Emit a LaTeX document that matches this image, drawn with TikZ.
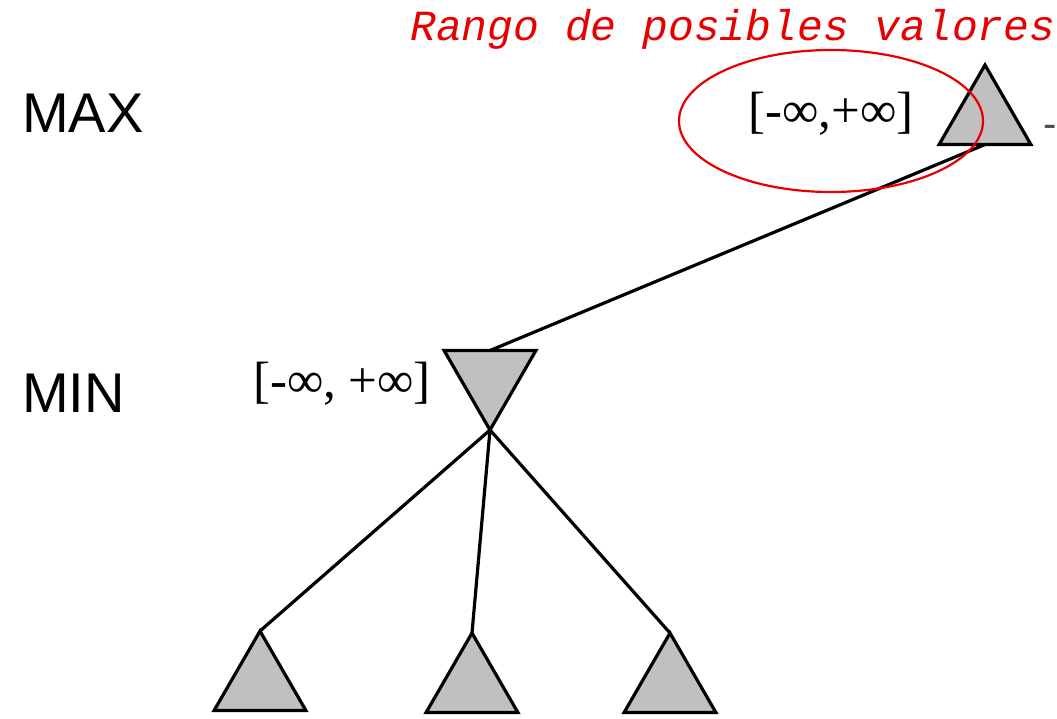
\documentclass[tikz,border=0pt]{standalone}
\usepackage{fontspec}
\setmainfont{Liberation Serif}
\newfontfamily\helvfont{Liberation Sans}
\newfontfamily\courfont{Liberation Mono}
\usepackage{tikz}
\usetikzlibrary{shapes.geometric}
\definecolor{ink}{HTML}{000000}
\definecolor{nodegray}{HTML}{C0C0C0}
\definecolor{rangered}{HTML}{E80000}

\begin{document}
\begin{tikzpicture}[x=1pt,y=-1pt]
    \tikzset{
      maxnode/.style={regular polygon,regular polygon sides=3,minimum size=106pt,inner sep=0pt,outer sep=0pt,draw=ink,fill=nodegray,line width=3.2pt},
      minnode/.style={maxnode,shape border rotate=180},
      levellabel/.style={font=\helvfont\fontsize{56}{60}\selectfont,anchor=base west,inner sep=0pt},
      rangelabel/.style={font=\fontsize{51}{54}\selectfont,anchor=base,inner sep=0pt},
      link/.style={draw=ink,line width=3.2pt}
    }
    \useasboundingbox (0,0) rectangle (1057,718);
    % levels
    \node[levellabel] (lmax) at (22,132) {MAX};
    \node[levellabel] (lmin) at (22,412) {MIN};
    % tree
    \node[maxnode] (root) at (985,118) {};
    \node[minnode] (mid) at (490,377) {};
    \node[maxnode] (c1) at (260,684) {};
    \node[maxnode] (c2) at (472,686) {};
    \node[maxnode] (c3) at (670,686) {};
    \draw[link] (root.south) -- (mid.north);
    \draw[link] (mid.south) -- (c1.north);
    \draw[link] (mid.south) -- (c2.north);
    \draw[link] (mid.south) -- (c3.north);
    % ranges
    \node[rangelabel] (rroot) at (831,127) {[-∞,+∞]};
    \node[rangelabel] (rmid) at (342,397) {[-∞, +∞]};
    \node[font=\helvfont\fontsize{40}{44}\selectfont,text=ink!70,anchor=west,inner sep=0pt] (cut) at (1043,131) {-};
    % highlight
    \node[draw=rangered,line width=2.2pt,ellipse,minimum width=304pt,minimum height=142pt,inner sep=0pt] (oval) at (831,121) {};
    \node[font=\courfont\itshape\fontsize{43}{46}\selectfont,text=rangered,anchor=base west,inner sep=0pt] (note) at (410,40) {Rango de posibles valores};
\end{tikzpicture}
\end{document}
